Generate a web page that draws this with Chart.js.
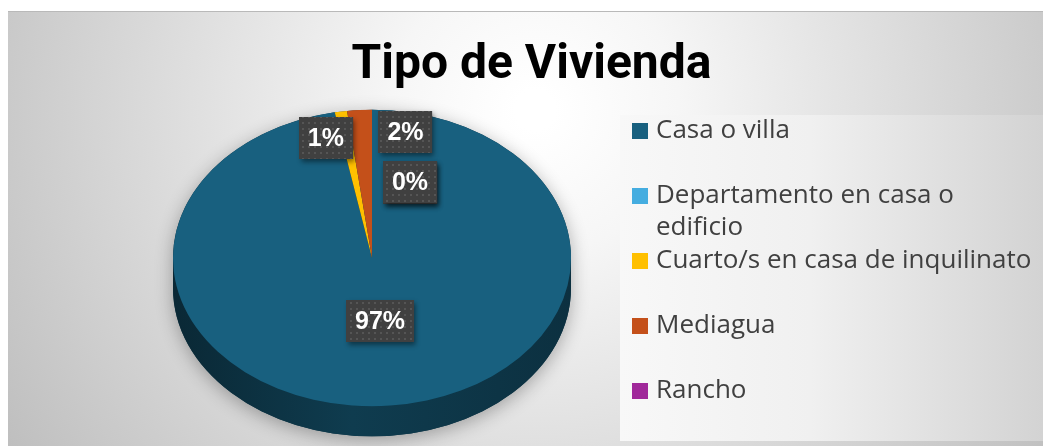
<!DOCTYPE html>
<html>
<head>
<meta charset="utf-8">
<title>Tipo de Vivienda</title>
<script src="https://cdn.jsdelivr.net/npm/chart.js@4.4.1/dist/chart.umd.min.js"></script>
<style>
  html, body { margin: 0; padding: 0; background: #ffffff; }
  canvas { display: block; }
</style>
</head>
<body>
<canvas id="chart" width="1043" height="446"></canvas>
<script>
// ---- data ----
const chartTitle = 'Tipo de Vivienda';
const categories = [
  'Casa o villa',
  'Departamento en casa o edificio',
  'Cuarto/s en casa de inquilinato',
  'Mediagua',
  'Rancho'
];
const shares = [97, 0, 1, 2, 0];   // percent of households
const sliceColors = ['#18607F', '#45ADE0', '#FFC000', '#C4501A', '#A0289A'];

// ---- layout / styling ----
const pieGeom = { cx: 372, cy: 258, tilt: 0.745, depth: 30 };
const legendBox = { x: 620, y: 115, w: 423, h: 326, swatchX: 632, textX: 656, firstY: 131, step: 65, lineH: 32, maxW: 380 };
// small nudges (px) applied to data labels after placing them on their slice
const labelNudge = [[0, 0], [69, 47], [-20, 3], [44, -2], [38, 49]];

function shade(hex, f) {
  const n = parseInt(hex.slice(1), 16);
  const r = Math.round(((n >> 16) & 255) * f), g = Math.round(((n >> 8) & 255) * f), b = Math.round((n & 255) * f);
  return `rgb(${r},${g},${b})`;
}

// dotted fill used on data-label boxes
const dotTile = document.createElement('canvas');
dotTile.width = 6; dotTile.height = 6;
(function () {
  const t = dotTile.getContext('2d');
  t.fillStyle = 'rgba(255,255,255,0.11)';
  t.fillRect(2, 2, 2, 2);
})();

// panel background and legend panel
const backdrop = {
  id: 'backdrop',
  beforeDraw(chart) {
    const ctx = chart.ctx;
    ctx.save();
    ctx.fillStyle = '#ffffff';
    ctx.fillRect(0, 0, chart.width, chart.height);
    const g = ctx.createRadialGradient(535, 110, 20, 535, 110, 640);
    g.addColorStop(0, '#ffffff');
    g.addColorStop(0.2, '#f6f6f6');
    g.addColorStop(1, '#bdbdbd');
    ctx.fillStyle = g;
    ctx.fillRect(8, 11, chart.width - 8, chart.height - 11);
    ctx.fillStyle = '#b9b9b9';
    ctx.fillRect(8, 11, chart.width - 8, 1);
    const lb = legendBox;
    const lg = ctx.createLinearGradient(lb.x, 0, lb.x + lb.w, 0);
    lg.addColorStop(0, '#f8f8f8');
    lg.addColorStop(0.45, '#f0f0f0');
    lg.addColorStop(1, '#d3d3d3');
    ctx.fillStyle = lg;
    ctx.fillRect(lb.x, lb.y, lb.w, lb.h);
    ctx.restore();
  }
};

// tilted pie: side walls, squashed top face, boxed data labels
const tiltedPie = {
  id: 'tiltedPie',
  beforeDatasetsDraw(chart) {
    const ctx = chart.ctx;
    const arcs = chart.getDatasetMeta(0).data;
    const R = arcs[0].outerRadius;
    const { cx, cy, tilt, depth } = pieGeom;
    const ry = R * tilt;

    // soft shadow under the whole solid
    ctx.save();
    ctx.shadowColor = 'rgba(0,0,0,0.30)';
    ctx.shadowBlur = 18;
    ctx.shadowOffsetY = 4;
    ctx.beginPath();
    ctx.ellipse(cx, cy, R, ry, 0, Math.PI, 2 * Math.PI);
    ctx.ellipse(cx, cy + depth, R, ry, 0, 0, Math.PI);
    ctx.closePath();
    ctx.fillStyle = shade(sliceColors[0], 0.55);
    ctx.fill();
    ctx.restore();

    // front side walls, one per slice
    arcs.forEach((arc, i) => {
      const s = Math.max(arc.startAngle, 0);
      const e = Math.min(arc.endAngle, Math.PI);
      if (e <= s) return;
      const base = chart.data.datasets[0].backgroundColor[i];
      const g = ctx.createLinearGradient(cx - R, 0, cx + R, 0);
      g.addColorStop(0, shade(base, 0.42));
      g.addColorStop(0.45, shade(base, 0.62));
      g.addColorStop(1, shade(base, 0.50));
      ctx.save();
      ctx.beginPath();
      ctx.ellipse(cx, cy, R, ry, 0, s, e, false);
      ctx.ellipse(cx, cy + depth, R, ry, 0, e, s, true);
      ctx.closePath();
      ctx.fillStyle = g;
      ctx.fill();
      ctx.restore();
    });

    // squash the library-drawn top face into the ellipse
    ctx.save();
    ctx.translate(cx, cy);
    ctx.scale(1, tilt);
    ctx.translate(-arcs[0].x, -arcs[0].y);
  },
  afterDatasetsDraw(chart) {
    const ctx = chart.ctx;
    ctx.restore();
    const arcs = chart.getDatasetMeta(0).data;
    const values = chart.data.datasets[0].data;
    const total = values.reduce((a, b) => a + b, 0);
    const R = arcs[0].outerRadius;
    const { cx, cy, tilt } = pieGeom;
    const pattern = ctx.createPattern(dotTile, 'repeat');
    ctx.save();
    ctx.font = 'bold 25px "Liberation Sans", Arial, sans-serif';
    ctx.textAlign = 'center';
    ctx.textBaseline = 'middle';
    arcs.forEach((arc, i) => {
      const frac = values[i] / total;
      const mid = (arc.startAngle + arc.endAngle) / 2;
      const r = frac > 0.1 ? 0.43 : 0.84;
      const x = cx + r * R * Math.cos(mid) + labelNudge[i][0];
      const y = cy + r * R * tilt * Math.sin(mid) + labelNudge[i][1];
      const text = Math.round(frac * 100) + '%';
      const w = ctx.measureText(text).width + 18, h = 42;
      const bx = Math.round(x - w / 2), by = Math.round(y - h / 2);
      ctx.save();
      ctx.shadowColor = 'rgba(0,0,0,0.45)';
      ctx.shadowBlur = 5;
      ctx.shadowOffsetX = 2;
      ctx.shadowOffsetY = 3;
      ctx.fillStyle = '#404040';
      ctx.fillRect(bx, by, w, h);
      ctx.restore();
      ctx.fillStyle = pattern;
      ctx.fillRect(bx, by, w, h);
      ctx.fillStyle = '#ffffff';
      ctx.fillText(text, x, y + 1);
    });
    ctx.restore();
  }
};

// legend on the right, wrapping long entries
const sideLegend = {
  id: 'sideLegend',
  afterDraw(chart) {
    const ctx = chart.ctx;
    const lb = legendBox;
    const colors = chart.data.datasets[0].backgroundColor;
    ctx.save();
    ctx.font = '26px "Open Sans", sans-serif';
    ctx.textBaseline = 'middle';
    ctx.textAlign = 'left';
    chart.data.labels.forEach((label, i) => {
      const y = lb.firstY + i * lb.step;
      ctx.fillStyle = colors[i];
      ctx.fillRect(lb.swatchX, y - 8, 16, 16);
      // word wrap
      const words = label.split(' ');
      const lines = [];
      let line = '';
      words.forEach(wd => {
        const test = line ? line + ' ' + wd : wd;
        if (ctx.measureText(test).width > lb.maxW && line) { lines.push(line); line = wd; }
        else line = test;
      });
      lines.push(line);
      ctx.fillStyle = '#404040';
      lines.forEach((ln, j) => ctx.fillText(ln, lb.textX, y + j * lb.lineH));
    });
    ctx.restore();
  }
};

new Chart(document.getElementById('chart'), {
  type: 'pie',
  data: {
    labels: categories,
    datasets: [{
      data: shares,
      backgroundColor: sliceColors,
      borderWidth: 0,
      radius: 199,
      clip: false
    }]
  },
  options: {
    responsive: false,
    animation: false,
    devicePixelRatio: 1,
    events: [],
    layout: { padding: { left: 20, top: 6, right: 0, bottom: 0 } },
    plugins: {
      legend: { display: false },
      tooltip: { enabled: false },
      title: {
        display: true,
        text: chartTitle,
        color: '#000000',
        font: { family: 'Roboto', size: 48, weight: 'bold' },
        padding: { top: 31, bottom: 10 }
      }
    }
  },
  plugins: [backdrop, tiltedPie, sideLegend]
});
</script>
</body>
</html>
